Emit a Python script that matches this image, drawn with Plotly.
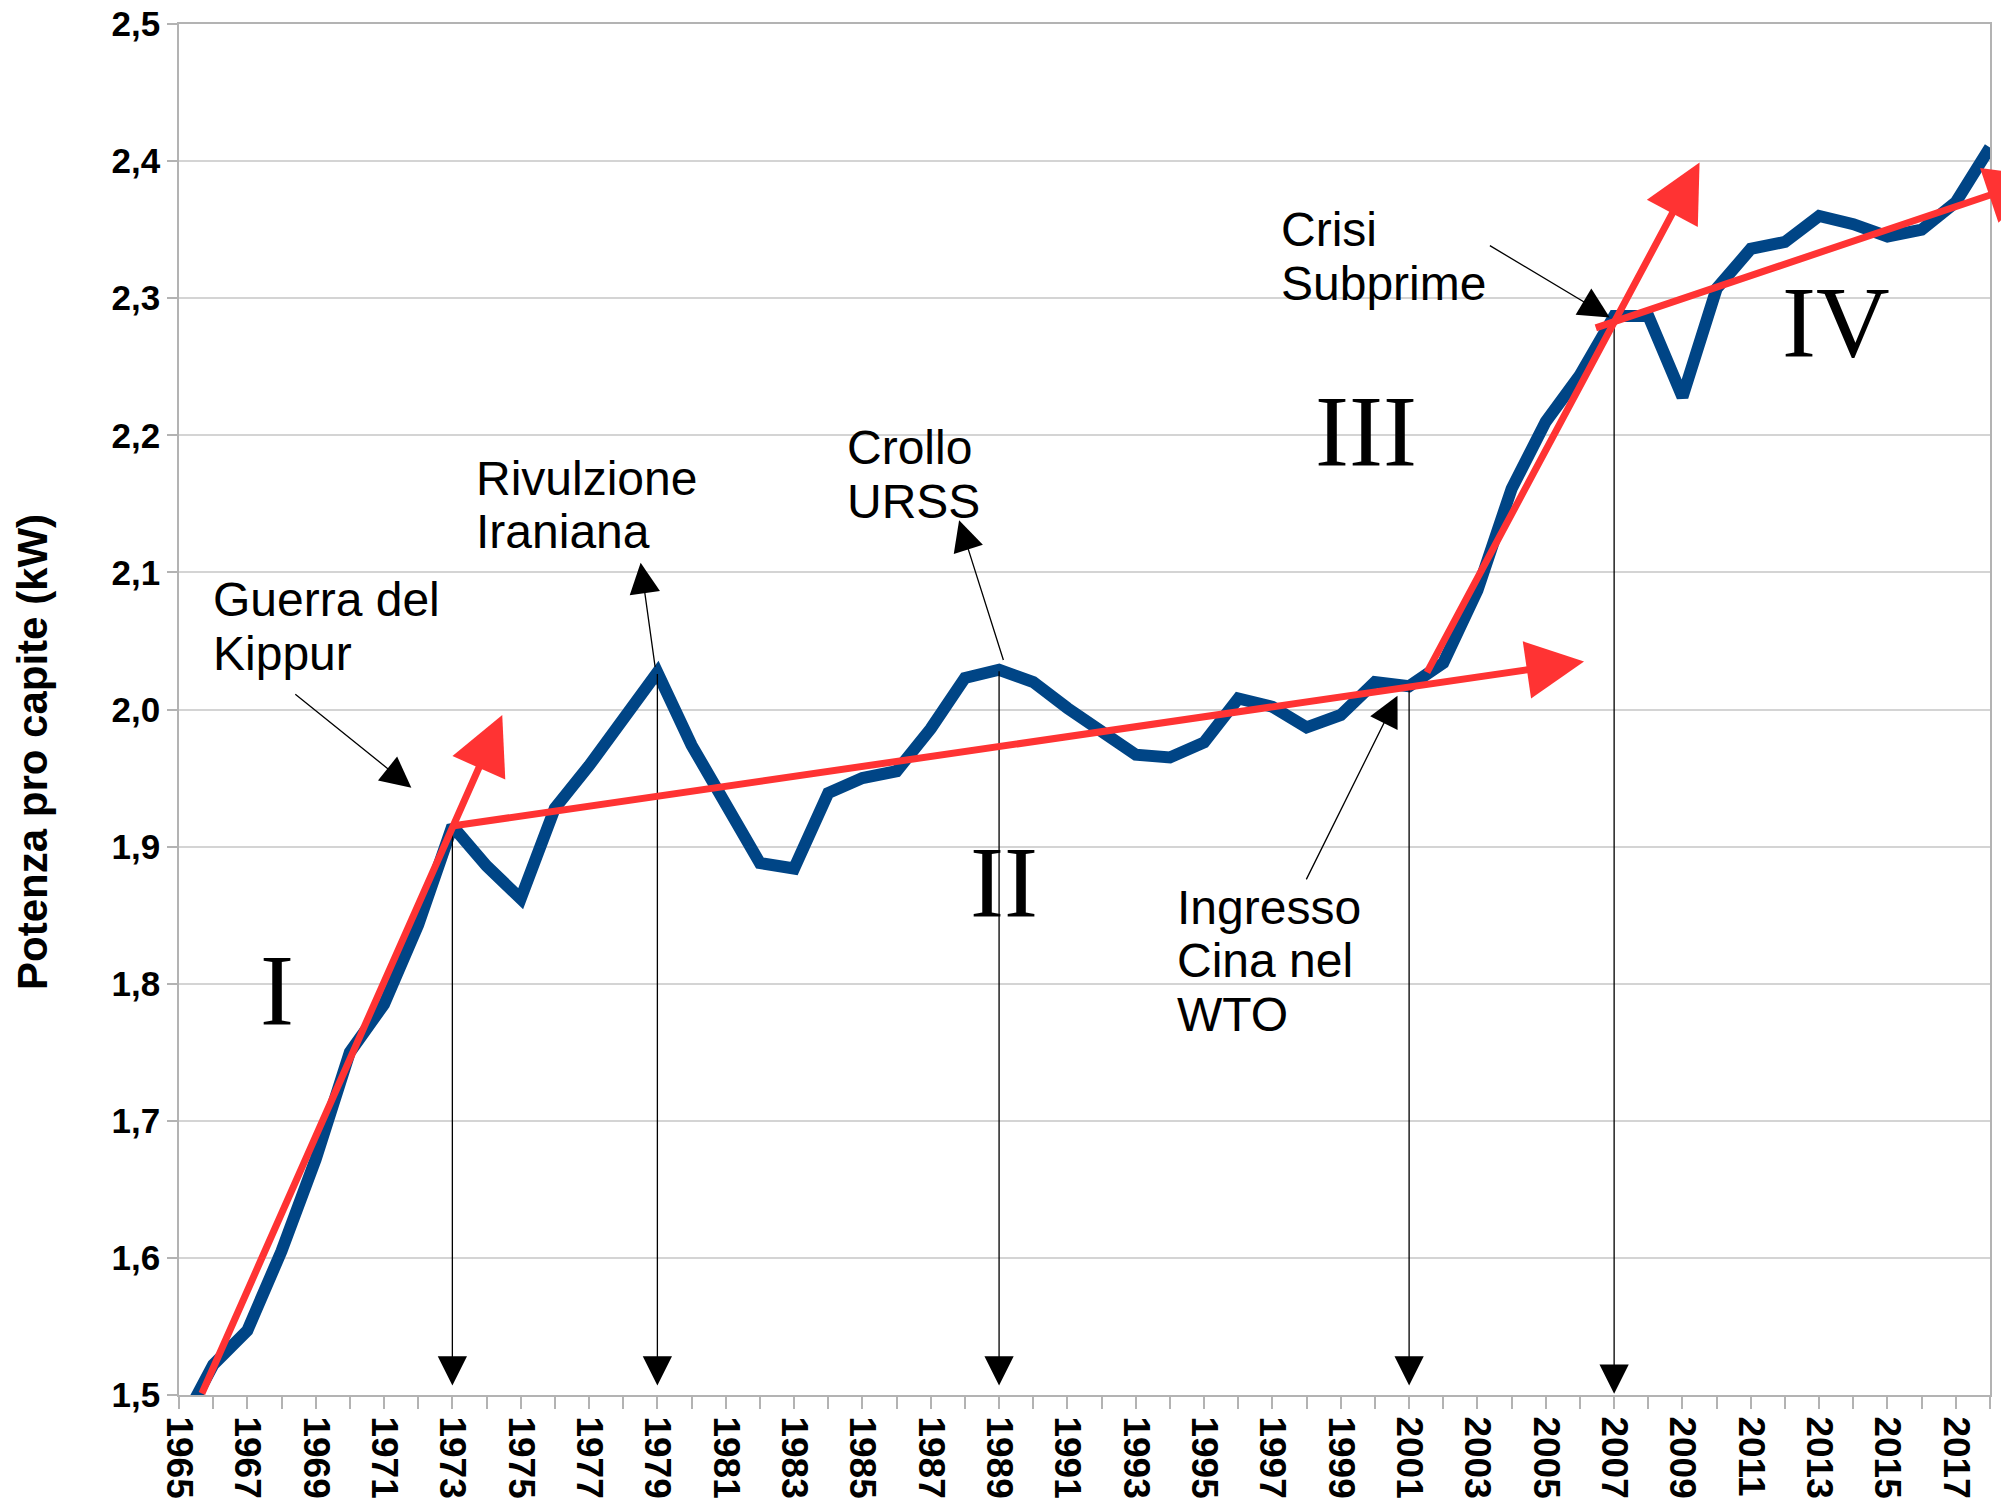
import plotly.graph_objects as go

# ---------------- data ----------------
years = list(range(1965, 2019))
power_kw = [1.475, 1.522, 1.547, 1.605, 1.672, 1.750, 1.785, 1.843, 1.915, 1.886,
            1.862, 1.928, 1.959, 1.992, 2.027, 1.974, 1.929, 1.888, 1.884, 1.939,
            1.950, 1.955, 1.986, 2.023, 2.029, 2.020, 2.001, 1.983, 1.967, 1.965,
            1.976, 2.008, 2.002, 1.987, 1.996, 2.020, 2.017, 2.034, 2.087, 2.161,
            2.210, 2.244, 2.287, 2.287, 2.228, 2.307, 2.336, 2.341, 2.360, 2.354,
            2.345, 2.350, 2.370, 2.410]

# trend arrows (phases I-IV): start / end in data units
trend_x0 = [1965.65, 1973.0, 2001.5, 2006.42]
trend_y0 = [1.500, 1.915, 2.026, 2.278]
trend_x1 = [1974.46, 2006.12, 2009.50, 2019.58]
trend_y1 = [1.996, 2.035, 2.399, 2.3885]

# event markers (vertical arrows down to the axis)
event_years = [1973, 1979, 1989, 2001, 2007]
event_tip = [1.507, 1.507, 1.507, 1.507, 1.501]

# event labels
event_lines = [["Guerra del", "Kippur"],
               ["Rivulzione", "Iraniana"],
               ["Crollo", "URSS"],
               ["Ingresso", "Cina nel", "WTO"],
               ["Crisi", "Subprime"]]
event_label_x = [1965.94, 1973.64, 1984.48, 1994.16, 1997.19]
event_label_y = [2.080, 2.1686, 2.191, 1.8557, 2.350]
event_line_step = 0.039
event_arrow_tail = [(1968.36, 2.012), (1978.94, 2.030), (1989.14, 2.035),
                    (1997.97, 1.875), (2003.32, 2.339)]
event_arrow_head = [(1971.80, 1.943), (1978.51, 2.107), (1987.83, 2.138),
                    (2000.66, 2.010), (2006.87, 2.286)]

phase_labels = ["I", "II", "III", "IV"]
phase_x = [1967.88, 1989.15, 1999.73, 2013.49]
phase_y = [1.795, 1.874, 2.203, 2.282]

SANS = "Liberation Sans, Arial, sans-serif"
SERIF = "Liberation Serif, Times New Roman, serif"

fig = go.Figure()
fig.add_trace(go.Scatter(
    x=years, y=power_kw, mode="lines",
    line=dict(color="#004586", width=12),
    showlegend=False, hoverinfo="x+y",
))

annotations = []


def arrow(x0, y0, x1, y1, color, width, size):
    return dict(x=x1, y=y1, ax=x0, ay=y0, xref="x", yref="y",
                axref="x", ayref="y", text="", showarrow=True,
                arrowhead=2, arrowsize=size, arrowwidth=width,
                arrowcolor=color, standoff=0, startstandoff=0)


# vertical event arrows
val_by_year = dict(zip(years, power_kw))
for yr, tip in zip(event_years, event_tip):
    annotations.append(arrow(yr, val_by_year[yr], yr, tip, "#000000", 1.3, 4.5))

# red trend arrows
for x0, y0, x1, y1 in zip(trend_x0, trend_y0, trend_x1, trend_y1):
    annotations.append(arrow(x0, y0, x1, y1, "#ff3333", 7, 1.65))

# event label arrows
for (tx, ty), (hx, hy) in zip(event_arrow_tail, event_arrow_head):
    annotations.append(arrow(tx, ty, hx, hy, "#000000", 1.3, 4.7))

# event label text
for lines, lx, ly in zip(event_lines, event_label_x, event_label_y):
    for i, t in enumerate(lines):
        annotations.append(dict(
            x=lx, y=ly - i * event_line_step, xref="x", yref="y",
            text=t, showarrow=False, xanchor="left", yanchor="middle",
            font=dict(family=SANS, size=48, color="#000000")))

# phase numerals
for t, px, py in zip(phase_labels, phase_x, phase_y):
    annotations.append(dict(
        x=px, y=py, xref="x", yref="y", text=t, showarrow=False,
        xanchor="center", yanchor="middle",
        font=dict(family=SERIF, size=102, color="#000000")))

# y axis title
annotations.append(dict(
    x=-0.0812, y=0.469, xref="paper", yref="paper",
    text="Potenza pro capite (kW)", textangle=-90, showarrow=False,
    xanchor="center", yanchor="middle",
    font=dict(family=SANS, size=42, color="#000000", weight="bold")))

fig.update_layout(
    width=2001, height=1504,
    margin=dict(l=179, r=11, t=24, b=109, pad=0, autoexpand=False),
    paper_bgcolor="#ffffff", plot_bgcolor="#ffffff",
    separators=",.",
    font=dict(family=SANS, color="#000000"),
    annotations=annotations,
    showlegend=False,
)

fig.update_xaxes(
    range=[1965, 2018], tickmode="linear", tick0=1965, dtick=2,
    tickangle=90, ticks="outside", ticklen=12, tickwidth=1.5,
    tickcolor="#b3b3b3", showgrid=False, zeroline=False, automargin=False,
    showline=True, linecolor="#b3b3b3", linewidth=2, mirror=True,
    tickfont=dict(family=SANS, size=37, color="#000000", weight="bold"),
    minor=dict(dtick=1, tick0=1965, ticks="outside", ticklen=12,
               tickwidth=1.5, tickcolor="#b3b3b3", showgrid=False),
)
fig.update_yaxes(
    range=[1.5, 2.5], tickmode="linear", tick0=1.5, dtick=0.1,
    tickformat=".1f", ticks="outside", ticklen=10, tickwidth=1.5,
    tickcolor="#b3b3b3", showgrid=True, gridcolor="#d4d4d4", gridwidth=2,
    zeroline=False, showline=True, linecolor="#b3b3b3", linewidth=1.5,
    mirror=True, automargin=False,
    tickfont=dict(family=SANS, size=35, color="#000000", weight="bold"),
)

fig.write_html("out.html", config={"displayModeBar": False},
               post_script="document.body.style.margin='0';")
